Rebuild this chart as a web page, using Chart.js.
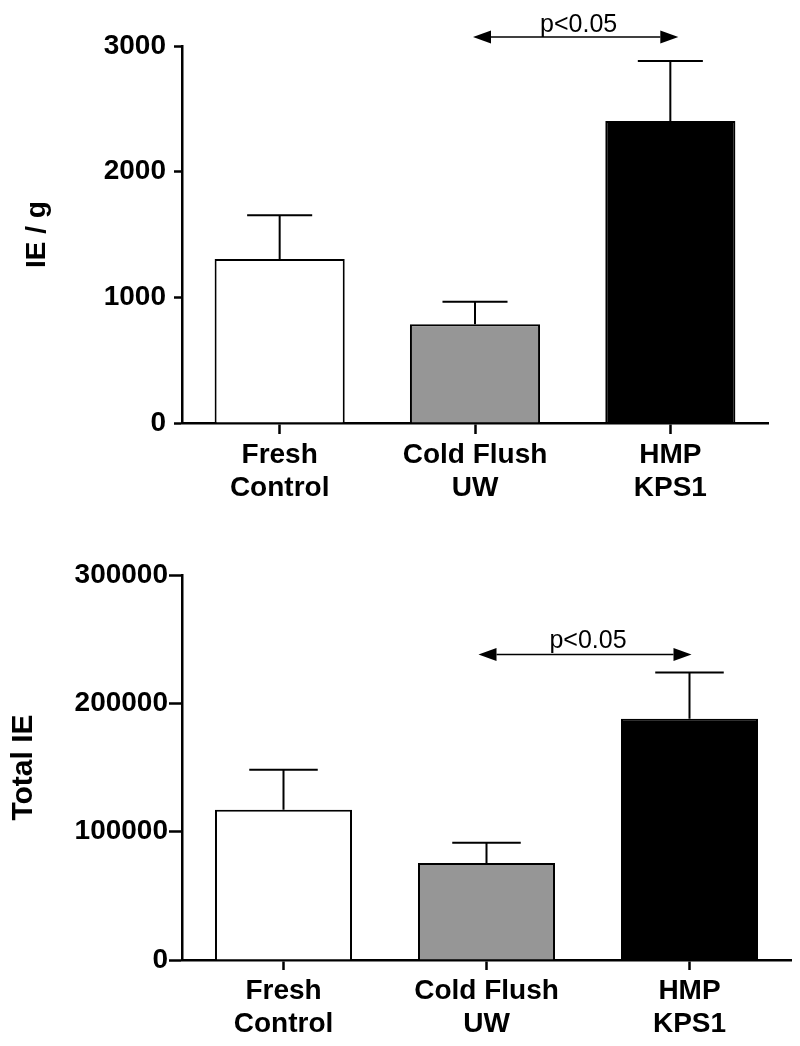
<!DOCTYPE html>
<html>
<head>
<meta charset="utf-8">
<script src="https://cdn.jsdelivr.net/npm/chart.js@4/dist/chart.umd.min.js"></script>
<style>
    body { margin: 0; background: #fff; }
    canvas { display: block; }
</style>
</head>
<body>
<canvas id="ieChart" width="800" height="523"></canvas>
<canvas id="totalChart" width="800" height="523"></canvas>
<script>
const categorias = [['Fresh', 'Control'], ['Cold Flush', 'UW'], ['HMP', 'KPS1']];
const colores = ['#ffffff', '#969696', '#000000'];

// IE / g
const ieValores = [1306, 786, 2403];
const ieErrores = [348, 178, 478];
const ieTicks = [0, 1000, 2000, 3000];

// Total IE
const totalValores = [117000, 75600, 188000];
const totalErrores = [31200, 15800, 36100];
const totalTicks = [0, 100000, 200000, 300000];

const fuente = '"Liberation Sans", Arial, sans-serif';

const errorBarsPlugin = {
    id: 'errorBars',
    afterDatasetsDraw(chart, args, opts) {
        const ctx = chart.ctx;
        const meta = chart.getDatasetMeta(0);
        const yScale = chart.scales.y;
        const valores = chart.data.datasets[0].data;
        ctx.save();
        ctx.strokeStyle = '#000';
        ctx.lineWidth = 2;
        meta.data.forEach((bar, i) => {
            const yTop = yScale.getPixelForValue(valores[i] + opts.errores[i]);
            const half = bar.width / 4;
            ctx.beginPath();
            ctx.moveTo(bar.x, bar.y);
            ctx.lineTo(bar.x, yTop);
            ctx.moveTo(bar.x - half, yTop);
            ctx.lineTo(bar.x + half, yTop);
            ctx.stroke();
        });
        ctx.restore();
    }
};

const sigArrowPlugin = {
    id: 'sigArrow',
    afterDraw(chart, args, opts) {
        const ctx = chart.ctx;
        const xScale = chart.scales.x;
        const y = chart.scales.y.getPixelForValue(opts.valor);
        const x1 = xScale.getPixelForValue(opts.desde) + opts.offsets[0];
        const x2 = xScale.getPixelForValue(opts.hasta) + opts.offsets[1];
        const largo = 18, alto = 6.5;
        ctx.save();
        ctx.strokeStyle = '#000';
        ctx.fillStyle = '#000';
        ctx.lineWidth = 1.5;
        ctx.beginPath();
        ctx.moveTo(x1 + largo, y);
        ctx.lineTo(x2 - largo, y);
        ctx.stroke();
        ctx.beginPath();
        ctx.moveTo(x1, y);
        ctx.lineTo(x1 + largo, y - alto);
        ctx.lineTo(x1 + largo, y + alto);
        ctx.closePath();
        ctx.fill();
        ctx.beginPath();
        ctx.moveTo(x2, y);
        ctx.lineTo(x2 - largo, y - alto);
        ctx.lineTo(x2 - largo, y + alto);
        ctx.closePath();
        ctx.fill();
        ctx.font = '25px ' + fuente;
        ctx.textAlign = 'center';
        ctx.textBaseline = 'alphabetic';
        ctx.fillText(opts.texto, (x1 + x2) / 2 + 3, y - opts.gap);
        ctx.restore();
    }
};

function renderBarChart(id, cfg) {
    const ctx = document.getElementById(id).getContext('2d');
    new Chart(ctx, {
        type: 'bar',
        data: {
            labels: categorias,
            datasets: [{
                data: cfg.valores,
                backgroundColor: colores,
                borderColor: '#000',
                borderWidth: 2,
                borderSkipped: 'start',
                barPercentage: cfg.barPct,
                categoryPercentage: 1
            }]
        },
        options: {
            responsive: false,
            animation: false,
            devicePixelRatio: 1,
            layout: {
                padding: { left: 0, top: cfg.top, right: cfg.right, bottom: 0 }
            },
            scales: {
                x: {
                    offset: true,
                    grid: {
                        display: true,
                        drawOnChartArea: false,
                        drawTicks: true,
                        tickLength: cfg.xTickLen,
                        tickWidth: 2.5,
                        tickColor: '#000',
                        offset: false
                    },
                    border: { display: true, color: '#000', width: 2.5 },
                    ticks: {
                        color: '#000',
                        padding: cfg.xTickPad,
                        maxRotation: 0,
                        autoSkip: false,
                        font: { family: fuente, size: 28, weight: 'bold', lineHeight: 1.18 }
                    },
                    afterFit(scale) { scale.height = cfg.xHeight; }
                },
                y: {
                    min: 0,
                    max: cfg.ticks[cfg.ticks.length - 1],
                    afterBuildTicks(scale) {
                        scale.ticks = cfg.ticks.map(v => ({ value: v }));
                    },
                    grid: {
                        display: true,
                        drawOnChartArea: false,
                        drawTicks: true,
                        tickLength: cfg.yTickLen,
                        tickWidth: 2.5,
                        tickColor: '#000'
                    },
                    border: { display: true, color: '#000', width: 2.5 },
                    ticks: {
                        color: '#000',
                        padding: cfg.yTickPad,
                        font: { family: fuente, size: 28, weight: 'bold' },
                        callback: v => String(v)
                    },
                    title: {
                        display: true,
                        text: cfg.titulo,
                        color: '#000',
                        padding: { top: cfg.titlePad, bottom: 0 },
                        font: { family: fuente, size: cfg.titleSize, weight: 'bold', lineHeight: 1.2 }
                    },
                    afterFit(scale) { scale.width = 182; }
                }
            },
            plugins: {
                legend: { display: false },
                tooltip: { enabled: false },
                errorBars: { errores: cfg.errores },
                sigArrow: cfg.flecha
            }
        },
        plugins: [errorBarsPlugin, sigArrowPlugin]
    });
}

renderBarChart('ieChart', {
    valores: ieValores,
    errores: ieErrores,
    ticks: ieTicks,
    titulo: 'IE / g',
    titleSize: 28,
    titlePad: 20,
    barPct: 0.666,
    top: 46,
    right: 32,
    xHeight: 100,
    xTickLen: 11,
    xTickPad: 5,
    yTickLen: 8,
    yTickPad: 8,
    flecha: { valor: 3071, desde: 1, hasta: 2, offsets: [-2, 8], texto: 'p<0.05', gap: 5 }
});

renderBarChart('totalChart', {
    valores: totalValores,
    errores: totalErrores,
    ticks: totalTicks,
    titulo: 'Total IE',
    titleSize: 30,
    titlePad: 6,
    barPct: 0.675,
    top: 52,
    right: 9,
    xHeight: 86,
    xTickLen: 10,
    xTickPad: 5,
    yTickLen: 13,
    yTickPad: 1,
    flecha: { valor: 238000, desde: 1, hasta: 2, offsets: [-8, 2], texto: 'p<0.05', gap: 7 }
});
</script>
</body>
</html>
